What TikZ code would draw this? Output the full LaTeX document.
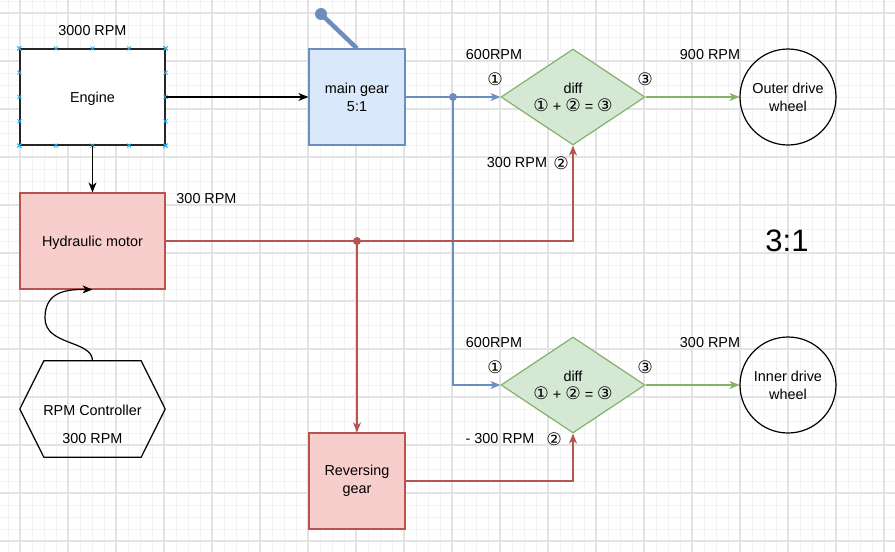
\documentclass[tikz,border=0pt]{standalone}
\usepackage{fontspec}
\setmainfont{Liberation Sans}
\newfontfamily\circfont[Scale=1.2]{DejaVu Sans}
\usetikzlibrary{arrows.meta,shapes.geometric,calc}
\definecolor{gridmajor}{HTML}{E3E3E3}
\definecolor{gridminor}{HTML}{F3F3F3}
\definecolor{gearfill}{HTML}{DAE8FC}
\definecolor{gearline}{HTML}{6C8EBF}
\definecolor{motorfill}{HTML}{F8CECC}
\definecolor{motorline}{HTML}{B85450}
\definecolor{difffill}{HTML}{D5E8D4}
\definecolor{diffline}{HTML}{82B366}
\definecolor{markblue}{HTML}{29B6F2}
\newcommand{\cnum}[1]{{\circfont #1}}
\begin{document}
\begin{tikzpicture}[x=1pt,y=-1pt,
    font=\fontsize{14.4}{18}\selectfont,
    every node/.style={inner sep=0pt},
    box/.style={draw,rectangle,line width=1.2pt,align=center,minimum width=96,minimum height=96},
    widebox/.style={box,minimum width=145,text depth=0pt},
    diffbox/.style={diamond,aspect=1.5,draw=diffline,fill=difffill,line width=1.2pt,align=center,minimum width=144,minimum height=96,font=\fontsize{14.4}{18}\selectfont},
    wheel/.style={circle,draw,line width=1.2pt,align=center,minimum size=96},
    conn/.style={line width=1.2pt,-{Stealth[length=10pt,width=8pt,inset=3pt]}},
    dot/.style={circle,minimum size=7.6}]
    \useasboundingbox (0,0) rectangle (895,552);
    \fill[white] (0,0) rectangle (895,552);
    \foreach \x in {8,20,...,895} \draw[gridminor,line width=1pt] (\x,0) -- (\x,552);
    \foreach \y in {1,13,...,552} \draw[gridminor,line width=1pt] (0,\y) -- (895,\y);
    \foreach \x in {20,68,...,895} \draw[gridmajor,line width=1.2pt] (\x,0) -- (\x,552);
    \foreach \y in {13,61,...,552} \draw[gridmajor,line width=1.2pt] (0,\y) -- (895,\y);

    \node[widebox,draw=black!85,fill=white] (eng) at (92.5,97) {Engine};
    \node[box,draw=gearline,fill=gearfill] (gear) at (357,97) {main gear\\5:1};
    \node[widebox,draw=motorline,fill=motorfill] (hyd) at (92.5,241) {Hydraulic motor};
    \node[box,draw=motorline,fill=motorfill] (rev) at (357,481) {Reversing\\gear};
    \node[diffbox] (diffA) at (573,97) {diff\\\cnum{①} + \cnum{②} = \cnum{③}};
    \node[diffbox] (diffB) at (573,385) {diff\\\cnum{①} + \cnum{②} = \cnum{③}};
    \node[wheel] (wheelA) at (788,97) {Outer drive\\wheel};
    \node[wheel] (wheelB) at (788,385) {Inner drive\\wheel};
    \node[rectangle,minimum width=145,minimum height=96] (ctrl) at (92.5,409) {};
    \draw[line width=1.2pt] (ctrl.west) -- ([xshift=24pt]ctrl.north west) -- ([xshift=-24pt]ctrl.north east)
        -- (ctrl.east) -- ([xshift=-24pt]ctrl.south east) -- ([xshift=24pt]ctrl.south west) -- cycle;
    \node (ctrltxt) at (92.5,410) {RPM Controller};
    \node (ctrlrpm) at (92.5,439) {300 RPM};

    \foreach \f in {0,0.25,0.5,0.75,1}{
        \foreach \p in {($(eng.north west)!\f!(eng.north east)$),($(eng.south west)!\f!(eng.south east)$),
                        ($(eng.north west)!\f!(eng.south west)$),($(eng.north east)!\f!(eng.south east)$)}{
            \draw[markblue,line width=0.8pt] \p +(-2,-2) -- +(2,2) +(-2,2) -- +(2,-2);
        }
    }

    \node (engrpm) at (92.5,31) {3000 RPM};
    \node (hydrpm) at (206.5,199) {300 RPM};
    \node (inArpm) at (494,55) {600RPM};
    \node (inAone) at (495,79) {\cnum{①}};
    \node (outAthree) at (645,79) {\cnum{③}};
    \node (outArpm) at (710,55) {900 RPM};
    \node (inArev) at (517,163) {300 RPM};
    \node (inAtwo) at (561,163) {\cnum{②}};
    \node (inBrpm) at (494,343) {600RPM};
    \node (inBone) at (495,367) {\cnum{①}};
    \node (outBthree) at (645,367) {\cnum{③}};
    \node (outBrpm) at (710,343) {300 RPM};
    \node (inBrev) at (500,439) {- 300 RPM};
    \node (inBtwo) at (554,439) {\cnum{②}};
    \node[font=\fontsize{31}{36}\selectfont] (ratio) at (787,240.5) {3:1};

    \coordinate (knob) at (321,14);
    \draw[gearline,line width=4.5pt] (gear.north) -- (knob);
    \fill[gearline] (knob) circle (6);

    \draw[conn] (eng.east) -- (gear.west);
    \draw[conn] (eng.south) -- (hyd.north);
    \draw[conn] (ctrl.north) .. controls (92.5,340) and (45,346) .. (45,318)
        .. controls (45,294) and (62,289) .. (hyd.south);

    \node[dot,fill=gearline] (splitA) at (453,97) {};
    \draw[conn,gearline] (gear.east) -- (diffA.west);
    \draw[conn,gearline] (splitA.center) |- (diffB.west);
    \node[dot,fill=motorline] (splitB) at (357,241) {};
    \draw[conn,motorline] (hyd.east) -| (diffA.south);
    \draw[conn,motorline] (splitB.center) -- (rev.north);
    \draw[conn,motorline] (rev.east) -| (diffB.south);
    \draw[conn,diffline] (diffA.east) -- (wheelA.west);
    \draw[conn,diffline] (diffB.east) -- (wheelB.west);
    \node[dot,fill=gearline] at (splitA) {};
    \node[dot,fill=motorline] at (splitB) {};
\end{tikzpicture}
\end{document}
